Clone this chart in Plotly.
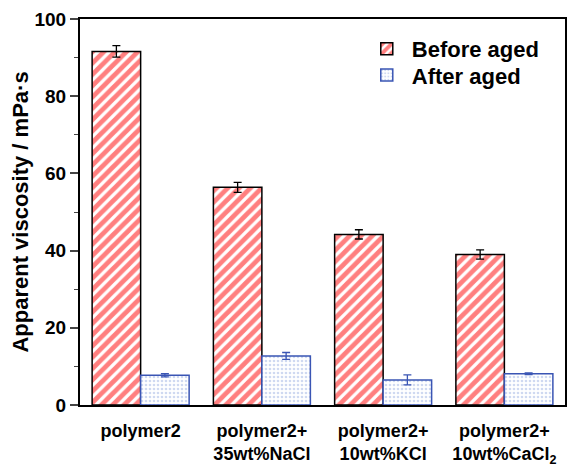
import plotly.graph_objects as go

categories = ["polymer2", "polymer2+<br>35wt%NaCl", "polymer2+<br>10wt%KCl",
              "polymer2+<br>10wt%CaCl<sub>2</sub>"]
before_aged = [91.6, 56.4, 44.2, 39.0]
before_err = [1.5, 1.3, 1.2, 1.2]
after_aged = [7.7, 12.7, 6.5, 8.1]
after_err = [0.4, 0.9, 1.3, 0.2]

fig = go.Figure()
fig.add_trace(go.Bar(
    x=categories, y=before_aged, name="Before aged", legend="legend",
    error_y=dict(type="data", array=before_err, color="black", thickness=1.3, width=4),
    marker=dict(color="white", line=dict(color="black", width=1.5),
                pattern=dict(shape="/", fgcolor="#ff0000", bgcolor="white",
                             size=8, solidity=0.6)),
))
fig.add_trace(go.Bar(
    x=categories, y=after_aged, name="After aged", legend="legend2",
    error_y=dict(type="data", array=after_err, color="#3a55b4", thickness=1.3, width=4),
    marker=dict(color="white", line=dict(color="#3a55b4", width=1.5),
                pattern=dict(shape=".", fgcolor="#9fb4e4", bgcolor="white",
                             size=4, solidity=0.35)),
))

leg = dict(xanchor="left", yanchor="top", bgcolor="rgba(0,0,0,0)",
           font=dict(size=22, weight="bold"), itemwidth=40)

# page body has an 8px margin, so the margins are 8px smaller on left/top
fig.update_layout(
    width=581, height=469,
    margin=dict(l=72, r=24, t=11, b=72),
    paper_bgcolor="white", plot_bgcolor="white",
    barmode="group", bargap=0.2, bargroupgap=0,
    font=dict(family="Liberation Sans, Arial, sans-serif", color="black"),
    showlegend=True,
    legend=dict(x=0.581, y=0.977, **leg),
    legend2=dict(x=0.581, y=0.909, **leg),
)
fig.update_xaxes(
    showline=True, linecolor="black", linewidth=2, mirror=True, automargin=False,
    ticks="", ticklabelstandoff=8, ticklabeloverflow="allow",
    tickfont=dict(size=18, weight="bold"),
)
fig.update_yaxes(
    range=[0, 100], dtick=20, showline=True, linecolor="black", linewidth=2,
    mirror=True, automargin=False, ticks="outside", ticklen=8, tickwidth=1.5,
    showgrid=False, ticklabeloverflow="allow",
    minor=dict(dtick=10, ticks="outside", ticklen=4, tickwidth=1.2),
    tickfont=dict(size=19, weight="bold"),
    title=dict(text="Apparent viscosity / mPa·s", font=dict(size=22, weight="bold"),
               standoff=12),
)

fig.write_html("out.html")
